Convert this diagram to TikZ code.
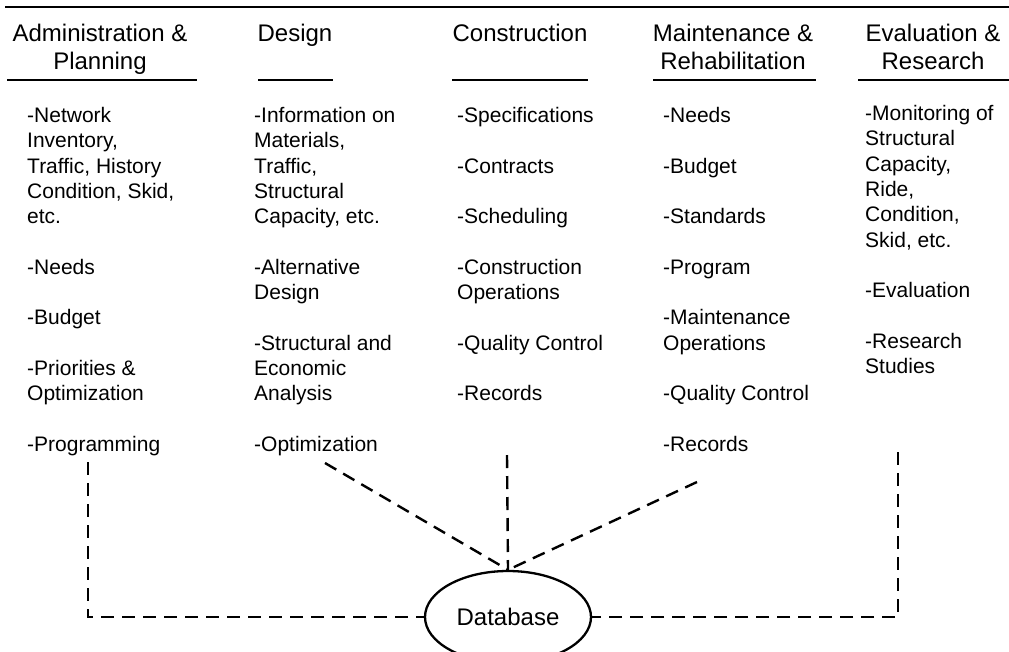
\documentclass[tikz,border=0pt]{standalone}
\usepackage{fontspec}
\setmainfont{Liberation Sans}
\usetikzlibrary{shapes.geometric,positioning}
\tikzset{
  head/.style={align=center, inner sep=0pt, anchor=base, font=\fontsize{24}{28}\selectfont},
  items/.style={align=left, inner sep=0pt, anchor=base west, font=\fontsize{21}{25.3}\selectfont},
  rule/.style={line width=1.8pt},
  store/.style={ellipse, draw, line width=2.3pt, minimum width=166pt, minimum height=92pt,
                inner sep=0pt, font=\fontsize{24}{28}\selectfont},
  link/.style={line width=2.4pt, dash pattern=on 13pt off 8pt},
}

\begin{document}
\begin{tikzpicture}[x=1pt, y=-1pt]
  \useasboundingbox (0,0) rectangle (1009,651);
  % headings (base anchor = last line)
  \draw[line width=2.2pt] (5,7) -- (1009,7);
  \node[head] (hdAdmin) at (100,69) {Administration \&\\Planning};
  \node[head] (hdDesign) at (295,41) {Design};
  \node[head] (hdConstr) at (520,41) {Construction};
  \node[head] (hdMaint) at (733,69) {Maintenance \&\\Rehabilitation};
  \node[head] (hdEval) at (933,69) {Evaluation \&\\Research};
  \draw[rule] (7,80) -- (197,80);
  \draw[rule] (258,80) -- (333,80);
  \draw[rule] (452,80) -- (588,80);
  \draw[rule] (653,80) -- (816,80);
  \draw[rule] (858,80) -- (1009,80);
  % activity lists (base anchor = last line)
  \node[items] (colAdmin) at (27,451.4) {-Network\\Inventory,\\Traffic, History\\Condition, Skid,\\etc.\\ \\-Needs\\ \\-Budget\\ \\-Priorities \&\\Optimization\\ \\-Programming};
  \node[items] (colDesign) at (254,451.4) {-Information on\\Materials,\\Traffic,\\Structural\\Capacity, etc.\\ \\-Alternative\\Design\\ \\-Structural and\\Economic\\Analysis\\ \\-Optimization};
  \node[items] (colConstr) at (457,400.8) {-Specifications\\ \\-Contracts\\ \\-Scheduling\\ \\-Construction\\Operations\\ \\-Quality Control\\ \\-Records};
  \node[items] (colMaint) at (663,451.4) {-Needs\\ \\-Budget\\ \\-Standards\\ \\-Program\\ \\-Maintenance\\Operations\\ \\-Quality Control\\ \\-Records};
  \node[items] (colEval) at (865,373.5) {-Monitoring of\\Structural\\Capacity,\\Ride,\\Condition,\\Skid, etc.\\ \\-Evaluation\\ \\-Research\\Studies};
  % database and links
  \node[store] (db) at (508,617) {Database};
  \coordinate (tapAdmin) at (88,462);
  \coordinate (tapDesign) at (325,463);
  \coordinate (tapConstr) at (507,455);
  \coordinate (tapMaint) at (697,482);
  \coordinate (tapEval) at (898,452);
  \draw[link] (tapAdmin) |- (db.west);
  \draw[link] (tapDesign) -- (db.north);
  \draw[link] (tapConstr) -- (db.north);
  \draw[link] (tapMaint) -- (db.north);
  \draw[link] (tapEval) |- (db.east);
\end{tikzpicture}
\end{document}
